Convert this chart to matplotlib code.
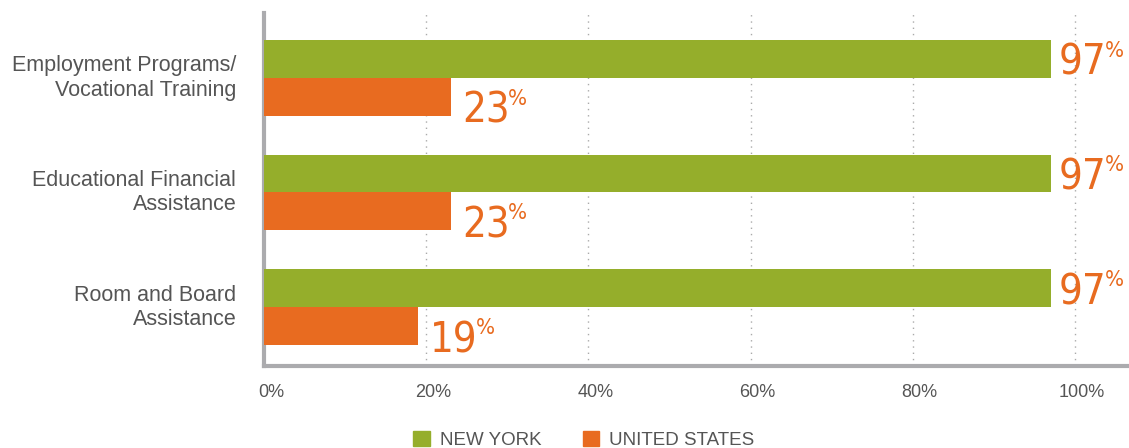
import matplotlib
matplotlib.use("Agg")
import matplotlib.pyplot as plt
import matplotlib.transforms as mtransforms
from matplotlib.patches import Patch

# Data
categories = ["Employment Programs/\nVocational Training",
              "Educational Financial\nAssistance",
              "Room and Board\nAssistance"]
new_york = [97, 97, 97]
united_states = [23, 23, 19]
x_ticks = [0, 20, 40, 60, 80, 100]
x_tick_labels = ["0%", "20%", "40%", "60%", "80%", "100%"]
series_names = ["NEW YORK", "UNITED STATES"]

GREEN = "#95AE2B"
ORANGE = "#E86B20"
GRAY = "#ABABAE"
TEXT = "#555555"

plt.rcParams['font.family'] = ['Liberation Sans', 'DejaVu Sans']

W, H = 1129, 448
fig = plt.figure(figsize=(W / 100, H / 100), dpi=100)
px_per_pct = (1075 - 264) / 100
ax = fig.add_axes([264 / W, 1 - 366 / H, (W - 264) / W, (366 - 13) / H])
ax.set_xlim(0, (W - 264) / px_per_pct)

h = 0.33
centers = [0, 1, 2]
ax.set_ylim(2 + 59 / 115, -65 / 115)

ny_y = [c - h / 2 for c in centers]
us_y = [c + h / 2 for c in centers]
ax.barh(ny_y, new_york, height=h, color=GREEN, zorder=3)
ax.barh(us_y, united_states, height=h, color=ORANGE, zorder=3)

# gridlines
for t in x_ticks[1:]:
    ax.axvline(t, color="#AAAAAA", lw=1, ls=(0, (1, 3.5)), zorder=1)

for s in ["top", "right"]:
    ax.spines[s].set_visible(False)
ax.spines["left"].set_color(GRAY)
ax.spines["left"].set_linewidth(3)
ax.spines["bottom"].set_color(GRAY)
ax.spines["bottom"].set_linewidth(3)

ax.set_xticks(x_ticks)
ax.set_xticklabels(x_tick_labels, fontsize=13, color=TEXT)
ax.tick_params(axis="x", length=0, pad=13)
shift = mtransforms.ScaledTranslation(7 / 100, 0, fig.dpi_scale_trans)
for lab in ax.get_xticklabels():
    lab.set_transform(lab.get_transform() + shift)
ax.set_yticks(centers)
ax.set_yticklabels(categories, fontsize=15.5, color=TEXT, linespacing=1.2)
ax.tick_params(axis="y", length=0, pad=20)
for lab in ax.get_yticklabels():
    lab.set_transform(lab.get_transform() + mtransforms.ScaledTranslation(0, 4 / 100, fig.dpi_scale_trans))

# value labels
num_font = dict(family=['Liberation Sans Narrow', 'DejaVu Sans'], stretch='condensed')


def value_label(x, y, val, gap, dy):
    t = ax.annotate(f"{val}", xy=(x, y), xytext=(gap, dy), textcoords="offset pixels",
                    ha="left", va="baseline", fontsize=30, color=ORANGE,
                    annotation_clip=False, **num_font)
    ax.annotate("%", xy=(1, 1), xycoords=t, xytext=(-2, 1), textcoords="offset pixels",
                ha="left", va="top", fontsize=16, color=ORANGE, **num_font)


for c, v in zip(centers, new_york):
    value_label(v, c, v, 8, 3)
for c, v in zip(centers, united_states):
    value_label(v, c + h, v, 12, -7)

handles = [Patch(color=GREEN), Patch(color=ORANGE)]
fig.legend(handles, series_names, loc="lower center", bbox_to_anchor=(0.517, -0.04),
           ncol=2, frameon=False, fontsize=13.5, handlelength=0.9, handleheight=0.9,
           handletextpad=0.5, columnspacing=2.2, labelcolor=TEXT)

fig.savefig("out.png", dpi=100)
